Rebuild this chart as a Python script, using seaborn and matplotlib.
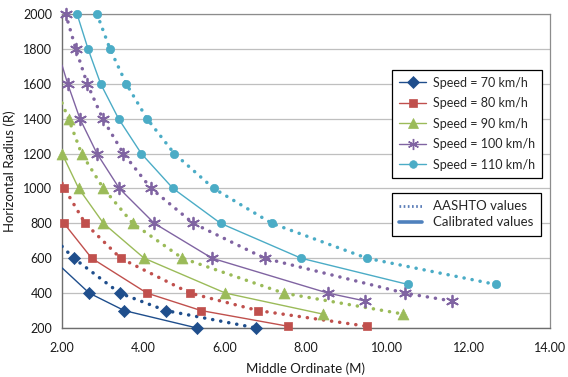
import matplotlib
matplotlib.use("Agg")
import matplotlib.pyplot as plt
from matplotlib.lines import Line2D
import seaborn as sns
import pandas as pd

# ---- data ----
speeds = ["Speed = 70 km/h", "Speed = 80 km/h", "Speed = 90 km/h",
          "Speed = 100 km/h", "Speed = 110 km/h"]

R_aashto_70 = [600, 400, 300, 200]
M_aashto_70 = [2.29, 3.42, 4.55, 6.78]
R_calib_70 = [400, 300, 200]
M_calib_70 = [2.67, 3.53, 5.32]

R_aashto_80 = [1000, 800, 600, 400, 300, 210]
M_aashto_80 = [2.06, 2.57, 3.44, 5.15, 6.82, 9.50]
R_calib_80 = [800, 600, 400, 300, 210]
M_calib_80 = [2.05, 2.73, 4.09, 5.42, 7.56]

R_aashto_90 = [1400, 1200, 1000, 800, 600, 400, 280]
M_aashto_90 = [2.16, 2.48, 3.02, 3.74, 4.96, 7.45, 10.39]
R_calib_90 = [1200, 1000, 800, 600, 400, 280]
M_calib_90 = [2.00, 2.41, 3.02, 4.02, 6.02, 8.41]

R_aashto_100 = [2000, 1800, 1600, 1400, 1200, 1000, 800, 600, 400, 355]
M_aashto_100 = [2.09, 2.34, 2.62, 3.00, 3.51, 4.19, 5.23, 6.98, 10.43, 11.58]
R_calib_100 = [1600, 1400, 1200, 1000, 800, 600, 400, 355]
M_calib_100 = [2.14, 2.44, 2.86, 3.41, 4.27, 5.69, 8.54, 9.45]

R_aashto_110 = [2000, 1800, 1600, 1400, 1200, 1000, 800, 600, 450]
M_aashto_110 = [2.86, 3.18, 3.58, 4.09, 4.76, 5.73, 7.16, 9.50, 12.66]
R_calib_110 = [2000, 1800, 1600, 1400, 1200, 1000, 800, 600, 450]
M_calib_110 = [2.37, 2.64, 2.95, 3.39, 3.95, 4.73, 5.90, 7.88, 10.50]

# where curves leave the left edge of the plot (M = 2.00)
edge_M = [2.00]
edge_aashto_R = {0: 668, 1: 1030, 2: 1490}
edge_calib_R = {0: 545, 1: 820, 3: 1707}

x_ticks = [2, 4, 6, 8, 10, 12, 14]
y_ticks = [200, 400, 600, 800, 1000, 1200, 1400, 1600, 1800, 2000]

aashto = [(M_aashto_70, R_aashto_70), (M_aashto_80, R_aashto_80),
          (M_aashto_90, R_aashto_90), (M_aashto_100, R_aashto_100),
          (M_aashto_110, R_aashto_110)]
calib = [(M_calib_70, R_calib_70), (M_calib_80, R_calib_80),
         (M_calib_90, R_calib_90), (M_calib_100, R_calib_100),
         (M_calib_110, R_calib_110)]

colors = ["#1F4E8C", "#C0504D", "#9BBB59", "#8064A2", "#4BACC6"]
markers = ["D", "s", "^", (6, 2, 0), "o"]
msizes = [38, 38, 62, 70, 36]

# ---- figure ----
sns.set_theme(style="white")
plt.rcParams["font.family"] = ["Lato", "DejaVu Sans"]

fig = plt.figure(figsize=(5.68, 3.77), dpi=100)
ax = fig.add_axes([62 / 568, 49 / 377, 488 / 568, 314 / 377])

for i in range(5):
    for kind, table, edges in (("A", aashto, edge_aashto_R), ("C", calib, edge_calib_R)):
        Ms, Rs = table[i]
        lM, lR = list(Ms), list(Rs)
        if i in edges:
            lM = edge_M + lM
            lR = [edges[i]] + lR
        df_line = pd.DataFrame({"M": lM, "R": lR})
        if kind == "A":
            sns.lineplot(data=df_line, x="M", y="R", sort=False, estimator=None,
                         color=colors[i], linewidth=2.5,
                         linestyle=(0, (0.05, 2.3)), dash_capstyle="round",
                         ax=ax, zorder=3)
        else:
            sns.lineplot(data=df_line, x="M", y="R", sort=False, estimator=None,
                         color=colors[i], linewidth=1.0, ax=ax, zorder=3)
        df_pts = pd.DataFrame({"M": Ms, "R": Rs})
        m = markers[i]
        if i == 3:
            sns.scatterplot(data=df_pts, x="M", y="R", marker=m, s=msizes[i],
                            color=colors[i], linewidth=1.3, ax=ax, zorder=4,
                            clip_on=False)
        else:
            sns.scatterplot(data=df_pts, x="M", y="R", marker=m, s=msizes[i],
                            color=colors[i], edgecolor=colors[i], linewidth=0.5,
                            ax=ax, zorder=4, clip_on=False)

ax.set_xlim(2, 14)
ax.set_ylim(200, 2000)
ax.set_xticks(x_ticks)
ax.set_xticklabels([f"{v:.2f}" for v in x_ticks])
ax.set_yticks(y_ticks)
ax.set_yticklabels([str(v) for v in y_ticks])
ax.tick_params(axis="both", labelsize=9, length=4, width=0.8, color="#7F7F7F",
               direction="out", pad=3, labelcolor="#1a1a1a")
ax.tick_params(axis="x", pad=6)
ax.yaxis.grid(True, color="#BFBFBF", linewidth=0.9)
ax.xaxis.grid(False)
ax.set_axisbelow(True)
for side in ("left", "bottom"):
    ax.spines[side].set_color("#6E6E6E")
    ax.spines[side].set_linewidth(1.0)
for side in ("top", "right"):
    ax.spines[side].set_color("#8C8C8C")
    ax.spines[side].set_linewidth(0.9)

ax.set_xlabel("Middle Ordinate (M)", fontsize=9.5, color="#1a1a1a", labelpad=6)
ax.set_ylabel("Horizontal Radius (R)", fontsize=9.5, color="#1a1a1a", labelpad=5)

# legend 1: speeds
h1 = [Line2D([0], [0], color=colors[i], lw=1.0, marker=markers[i],
             markersize=[6, 6, 7.5, 8, 5.5][i], markerfacecolor=colors[i],
             markeredgecolor=colors[i], markeredgewidth=1.0 if i == 3 else 0.5)
      for i in range(5)]
leg1 = ax.legend(h1, speeds, loc="upper left", bbox_to_anchor=(0.676, 0.822),
                 fontsize=9, frameon=True, fancybox=False, framealpha=1,
                 edgecolor="black", handlelength=2.2, handletextpad=0.5,
                 labelspacing=0.68, borderpad=0.55, borderaxespad=0)
leg1.get_frame().set_linewidth(0.9)
ax.add_artist(leg1)

# legend 2: line types
h2 = [Line2D([0], [0], color="#5B7DB8", lw=2.0, linestyle=(0, (0.6, 0.9))),
      Line2D([0], [0], color="#4F81BD", lw=2.6)]
leg2 = ax.legend(h2, ["AASHTO values", "Calibrated values"], loc="upper left",
                 bbox_to_anchor=(0.676, 0.430), fontsize=9.5, frameon=True,
                 fancybox=False, framealpha=1, edgecolor="black",
                 handlelength=1.7, handletextpad=0.9, labelspacing=0.32,
                 borderpad=0.55, borderaxespad=0)
leg2.get_frame().set_linewidth(0.9)

fig.savefig("out.png", dpi=100)
